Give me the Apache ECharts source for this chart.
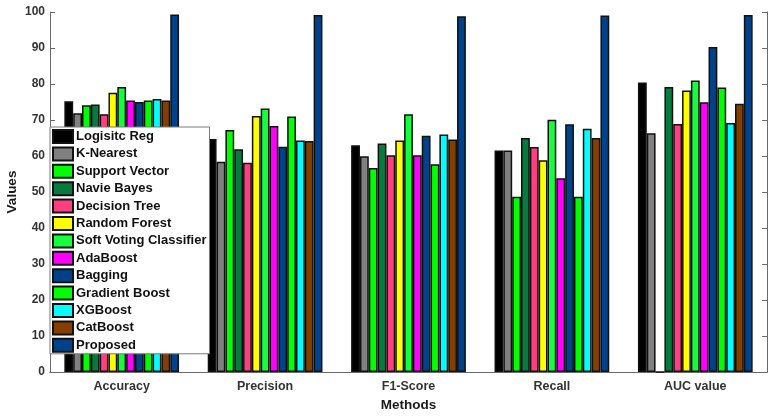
<!DOCTYPE html>
<html>
<head>
<meta charset="utf-8">
<script src="https://cdn.jsdelivr.net/npm/echarts@6/dist/echarts.min.js"></script>
<style>html,body{margin:0;padding:0;background:#fff}#c{width:772px;height:417px}</style>
</head>
<body>
<div id="c"></div>
<script>
const categories = ['Accuracy', 'Precision', 'F1-Score', 'Recall', 'AUC value'];
const seriesNames = ['Logisitc Reg', 'K-Nearest', 'Support Vector', 'Navie Bayes', 'Decision Tree', 'Random Forest', 'Soft Voting Classifier', 'AdaBoost', 'Bagging', 'Gradient Boost', 'XGBoost', 'CatBoost', 'Proposed'];
const logisticReg = [75.2, 64.7, 63.0, 61.5, 80.4];
const kNearest = [71.9, 58.4, 59.9, 61.5, 66.3];
const supportVector = [74.1, 67.2, 56.7, 48.7, 0];
const navieBayes = [74.3, 61.9, 63.5, 65.0, 79.2];
const decisionTree = [71.6, 58.1, 60.2, 62.5, 68.9];
const randomForest = [77.6, 71.1, 64.3, 58.8, 78.2];
const softVoting = [79.2, 73.2, 71.6, 70.1, 81.0];
const adaBoost = [75.4, 68.3, 60.2, 53.8, 74.9];
const bagging = [75.0, 62.6, 65.6, 68.8, 90.3];
const gradientBoost = [75.4, 71.0, 57.7, 48.7, 79.0];
const xgBoost = [75.8, 64.3, 66.0, 67.6, 69.2];
const catBoost = [75.4, 64.2, 64.6, 65.0, 74.5];
const proposed = [99.3, 99.2, 98.8, 99.0, 99.2];
const yTicks = [0, 10, 20, 30, 40, 50, 60, 70, 80, 90, 100];

const seriesData = [logisticReg, kNearest, supportVector, navieBayes, decisionTree, randomForest, softVoting, adaBoost, bagging, gradientBoost, xgBoost, catBoost, proposed];
const colors = ['#000000', '#808080', '#00ff00', '#077a3d', '#ff3f7f', '#ffff00', '#14ff3c', '#ff00ff', '#00428a', '#00ff00', '#00ffff', '#843f00', '#00428a'];

const chart = echarts.init(document.getElementById('c'), null, {renderer: 'canvas'});
const font = 'Liberation Sans, Arial, Helvetica, sans-serif';
const axisColor = '#6a6a6a';
const option = {
  animation: false,
  backgroundColor: '#ffffff',
  textStyle: {fontFamily: font},
  grid: {left: 50, right: 5, top: 12, bottom: 45, containLabel: false, outerBoundsMode: 'none'},
  legend: {
    orient: 'vertical',
    left: 50, top: 127,
    padding: [2, 3, 1, 2],
    itemWidth: 20, itemHeight: 13, itemGap: 2.4,
    backgroundColor: '#ffffff',
    borderColor: '#7a7a7a', borderWidth: 1,
    borderRadius: 0,
    textStyle: {fontFamily: font, fontWeight: 'bold', fontSize: 13, lineHeight: 13, color: '#111', padding: [0, 0, 0, -2]},
    icon: 'rect',
    data: seriesNames
  },
  xAxis: [{
    type: 'category', data: categories, position: 'bottom',
    name: 'Methods', nameLocation: 'middle', nameGap: 26,
    nameTextStyle: {fontFamily: font, fontWeight: 'bold', fontSize: 13.5, color: '#1a1a1a'},
    axisLine: {lineStyle: {color: axisColor, width: 1}},
    axisTick: {alignWithLabel: true, inside: true, length: 5, lineStyle: {color: axisColor}},
    axisLabel: {fontFamily: font, fontWeight: 'bold', fontSize: 12.5, color: '#333', margin: 8},
    splitLine: {show: false}
  }, {
    type: 'category', data: categories, position: 'top',
    axisLine: {show: true, lineStyle: {color: axisColor, width: 1}},
    axisTick: {alignWithLabel: true, inside: true, length: 5, lineStyle: {color: axisColor}},
    axisLabel: {show: false},
    splitLine: {show: false}
  }],
  yAxis: [{
    type: 'value', min: 0, max: 100, interval: 10, position: 'left',
    name: 'Values', nameLocation: 'middle', nameGap: 31, nameRotate: 90, nameMoveOverlap: false,
    nameTextStyle: {fontFamily: font, fontWeight: 'bold', fontSize: 13.5, color: '#1a1a1a'},
    axisLine: {show: true, lineStyle: {color: axisColor, width: 1}},
    axisTick: {show: true, inside: true, length: 5, lineStyle: {color: axisColor}},
    axisLabel: {fontFamily: font, fontWeight: 'bold', fontSize: 12, color: '#333', margin: 5,
      formatter: v => yTicks.includes(v) ? String(v) : ''},
    splitLine: {show: false}
  }, {
    type: 'value', min: 0, max: 100, interval: 10, position: 'right',
    axisLine: {show: true, lineStyle: {color: axisColor, width: 1}},
    axisTick: {show: true, inside: true, length: 5, lineStyle: {color: axisColor}},
    axisLabel: {show: false},
    splitLine: {show: false}
  }],
  series: seriesNames.map((name, i) => ({
    name: name,
    type: 'bar',
    xAxisIndex: 0, yAxisIndex: 0,
    data: seriesData[i],
    barGap: '0%',
    barCategoryGap: '20%',
    itemStyle: {color: colors[i], borderColor: '#111', borderWidth: 1.5}
  }))
};
chart.setOption(option);
</script>
</body>
</html>
